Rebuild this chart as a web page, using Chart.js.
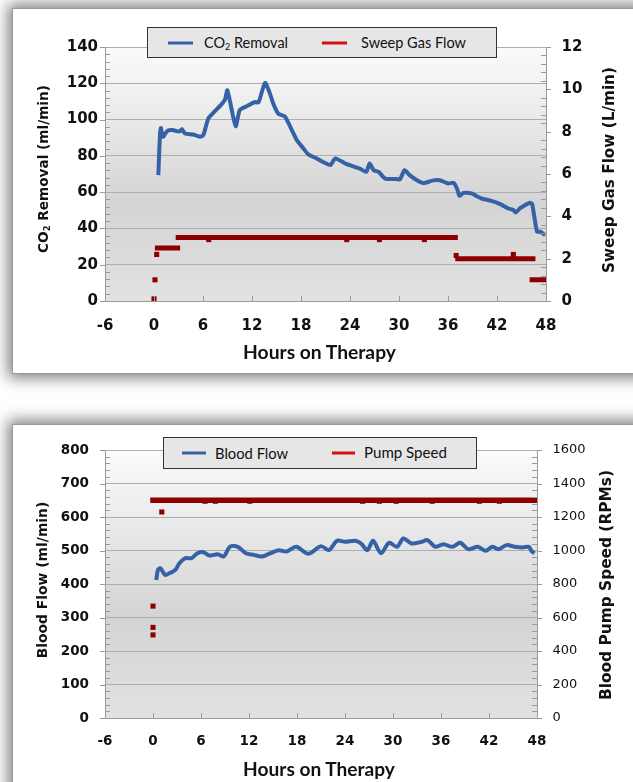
<!DOCTYPE html>
<html><head><meta charset="utf-8">
<script src="https://cdn.jsdelivr.net/npm/chart.js@4.4.1/dist/chart.umd.min.js"></script>
<style>
html,body{margin:0;padding:0;background:#fff;width:633px;height:782px;overflow:hidden;position:relative;}
.panel{position:absolute;background:#fff;border:1px solid #9a9a9a;box-shadow:0 0 14px 4px rgba(0,0,0,0.5);}
#p1{left:12px;top:8px;width:700px;height:364px;}
#p2{left:12px;top:424px;width:700px;height:420px;}
canvas{position:absolute;left:0;}
#c1{top:0;}
#c2{top:390px;}
.legend{position:absolute;background:#e6e6e6;border:1.5px solid #333;box-sizing:border-box;}
.lt{position:absolute;white-space:nowrap;font-family:Lato,'Noto Sans',sans-serif;color:#111;line-height:1;transform:translateY(-50%);}
.sw{position:absolute;height:3px;transform:translateY(-50%);}
.vt{position:absolute;white-space:nowrap;font-weight:bold;font-family:'DejaVu Sans',sans-serif;color:#111;line-height:1.1;transform:translate(-50%,-50%) rotate(-90deg);}
.xt{position:absolute;white-space:nowrap;font-weight:bold;font-family:Lato,'Noto Sans',sans-serif;color:#111;line-height:1.1;transform:translate(-50%,-50%);}
sub{font-size:0.62em;vertical-align:-0.3em;line-height:0;}
</style>
</head>
<body>
<div class="panel" id="p1"></div>
<div class="panel" id="p2"></div>
<canvas id="c1" width="633" height="380"></canvas>
<canvas id="c2" width="633" height="392"></canvas>

<div class="legend" style="left:147px;top:27px;width:350px;height:31px;"></div>
<div class="sw" style="left:168px;top:42.7px;width:25px;background:#3561a6;"></div>
<div class="lt fit" data-w="84" style="left:204px;top:42.7px;">CO<sub>2</sub> Removal</div>
<div class="sw" style="left:322px;top:42.7px;width:25px;background:#d41010;"></div>
<div class="lt fit" data-w="105" style="left:361px;top:42.7px;">Sweep Gas Flow</div>

<div class="legend" style="left:163px;top:437px;width:314px;height:32px;"></div>
<div class="sw" style="left:182px;top:453.3px;width:24px;background:#3561a6;"></div>
<div class="lt fit" data-w="73" style="left:215px;top:453.3px;">Blood Flow</div>
<div class="sw" style="left:332px;top:453.3px;width:23px;background:#d41010;"></div>
<div class="lt fit" data-w="83" style="left:364px;top:453.3px;">Pump Speed</div>

<div class="vt fit" data-w="168" style="left:43px;top:169px;">CO<sub>2</sub> Removal (ml/min)</div>
<div class="vt fit" data-w="206" style="left:609px;top:170px;">Sweep Gas Flow (L/min)</div>
<div class="xt fit" data-w="153" style="left:319.5px;top:352px;">Hours on Therapy</div>

<div class="vt fit" data-w="157" style="left:42.5px;top:580px;">Blood Flow (ml/min)</div>
<div class="vt fit" data-w="230" style="left:606px;top:585px;">Blood Pump Speed (RPMs)</div>
<div class="xt fit" data-w="152" style="left:319px;top:769px;">Hours on Therapy</div>

<script>
// ---------- tick labels ----------
const hoursTicks = [-6, 0, 6, 12, 18, 24, 30, 36, 42, 48];
const co2Ticks = [0, 20, 40, 60, 80, 100, 120, 140];
const sweepTicks = [0, 2, 4, 6, 8, 10, 12];
const bloodTicks = [0, 100, 200, 300, 400, 500, 600, 700, 800];
const pumpTicks = [0, 200, 400, 600, 800, 1000, 1200, 1400, 1600];

// ---------- chart 1: CO2 removal (ml/min) ----------
const co2Hours = [0.53, 0.62, 0.75, 0.86, 1.0, 1.14, 1.4, 1.75, 2.3, 2.8, 3.18, 3.4, 3.8, 4.8, 5.63, 6.04,
  6.65, 7.26, 8.29, 8.7, 8.98, 9.4, 10.0, 10.5, 11.35, 12.37, 12.8, 13.6, 14.2, 14.6, 15.2, 16.0, 16.4,
  17.5, 18.3, 18.9, 19.9, 20.9, 21.6, 22.2, 23.6, 25.2, 26.0, 26.4, 26.9, 27.5, 28.3, 29.7, 30.1, 30.7,
  31.3, 32.2, 33.0, 34.2, 35.0, 36.0, 36.7, 37.1, 37.4, 37.9, 38.9, 39.5, 40.1, 41.3, 42.4, 43.4, 44.0,
  44.3, 44.8, 46.0, 46.3, 46.9, 47.3, 47.9];
const co2Values = [69.4, 80, 93, 95.4, 91, 90.5, 92.5, 94, 94.2, 93.6, 93.6, 94.7, 92.3, 91.8, 90.5, 91.4,
  100.6, 103.7, 108.5, 111, 116.2, 107.9, 96.3, 105.2, 107.4, 109.7, 109.5, 120.2, 114.3, 108.8, 103.3, 101.8, 98.7,
  88.6, 84.1, 80.8, 78.6, 76.2, 74.9, 78.6, 75.4, 73, 71.2, 75.8, 72.1, 71.2, 67.5, 67.2, 67.0, 72.1,
  69.4, 66.6, 65, 66.5, 66.6, 64.8, 65.1, 62, 58, 59.6, 59.3, 57.8, 56.5, 55.2, 53.4, 51, 50.1,
  48.8, 51, 54.1, 53.4, 38.2, 38.2, 36.3];

// sweep gas flow (L/min): constant runs and single readings
const sweepRunStart = [0.42, 2.96, 37.2, 46.3];
const sweepRunEnd = [2.9, 36.9, 46.4, 48.0];
const sweepRunValue = [2.5, 3.0, 2.0, 1.0];
const sweepDotHours = [0.0, 0.12, 0.33, 6.7, 23.6, 27.6, 33.1, 37.0, 44.0];
const sweepDotValues = [0.1, 1.0, 2.2, 2.9, 2.9, 2.9, 2.9, 2.15, 2.2];

// ---------- chart 2: blood flow (ml/min) ----------
const bloodHours = [0.41, 0.62, 0.92, 1.53, 2.03, 2.79, 3.3, 4.05, 4.8, 5.56, 6.3, 7.07, 8.09, 8.84, 9.6,
  10.6, 11.6, 12.6, 13.6, 14.7, 15.7, 16.7, 17.9, 19.4, 21.0, 22.0, 23.0, 24.0, 25.3, 26.0, 26.8, 27.5,
  28.5, 29.5, 30.5, 31.3, 32.3, 33.6, 34.3, 35.3, 36.3, 37.4, 38.4, 39.4, 40.6, 41.6, 42.4, 43.2, 44.2,
  45.2, 46.2, 47.0, 47.3, 47.7];
const bloodValues = [412, 442, 447, 427, 432, 442, 462, 477, 477, 492, 495, 485, 489, 482, 511,
  511, 492, 487, 482, 492, 501, 497, 511, 490, 513, 501, 529, 526, 529, 521, 501, 529,
  492, 523, 511, 536, 521, 526, 531, 511, 519, 511, 523, 504, 511, 499, 511, 504, 516,
  511, 509, 511, 499, 492];

// blood pump speed (RPM)
const pumpRunStart = [0.0];
const pumpRunEnd = [48.0];
const pumpRunValue = [1300];
const pumpDotHours = [0.0, 0.0, 0.0, 1.1, 6.5, 7.8, 12.1, 26.2, 28.3, 30.4, 34.9, 40.8, 43.3];
const pumpDotValues = [668, 541, 496, 1230, 1294, 1294, 1294, 1294, 1294, 1294, 1294, 1294, 1294];

// ---------- styling ----------
const BLUE = '#3561a6';
const DARKRED = '#8e0000';
const GRID = '#adadad';
const AXIS = '#9a9a9a';
const TXT = '#111111';

function pts(xs, ys) { return xs.map((x, i) => ({ x: x, y: ys[i] })); }
function runs(starts, ends, vals) {
  const out = [];
  starts.forEach((s, i) => { out.push({ x: s, y: vals[i] }, { x: ends[i], y: vals[i] }, { x: ends[i], y: null }); });
  return out;
}
function fixedTicks(arr) { return s => { s.ticks = arr.map(v => ({ value: v })); }; }

const plotBg = {
  id: 'plotBg',
  beforeDraw(chart) {
    const { ctx, chartArea: a } = chart;
    const g = ctx.createLinearGradient(0, a.top, 0, a.bottom);
    g.addColorStop(0, '#fbfbfb');
    g.addColorStop(0.62, '#d4d4d4');
    g.addColorStop(1, '#e2e2e2');
    ctx.save(); ctx.fillStyle = g;
    ctx.fillRect(a.left, a.top, a.right - a.left, a.bottom - a.top);
    ctx.restore();
  }
};

const tickMarks = {
  id: 'tickMarks',
  afterDraw(chart, args, o) {
    const ctx = chart.ctx, a = chart.chartArea;
    const yl = chart.scales.y, yr = chart.scales.y1, xs = chart.scales.x;
    ctx.save(); ctx.strokeStyle = AXIS; ctx.lineWidth = 1;
    const ln = (x1, y1, x2, y2) => { ctx.beginPath(); ctx.moveTo(x1, y1); ctx.lineTo(x2, y2); ctx.stroke(); };
    const axisTicks = (sc, major, minor, side) => {
      const n = Math.round((sc.max - sc.min) / minor);
      const per = Math.round(major / minor);
      for (let i = 0; i <= n; i++) {
        const p = Math.round(sc.getPixelForValue(sc.min + i * minor)) + 0.5;
        const isMajor = i % per === 0;
        if (side === 'left') { isMajor ? ln(a.left - 5, p, a.left, p) : ln(a.left, p, a.left + 5, p); }
        else { isMajor ? ln(a.right, p, a.right + 5, p) : ln(a.right - 5, p, a.right, p); }
      }
    };
    axisTicks(yl, o.lMajor, o.lMinor, 'left');
    axisTicks(yr, o.rMajor, o.rMinor, 'right');
    hoursTicks.forEach(h => { const p = Math.round(xs.getPixelForValue(h)) + 0.5; ln(p, a.bottom, p, a.bottom - 5); });
    ctx.restore();
  }
};

function makeChart(id, cfg) {
  const tickFont = (size, weight) => ({ family: "'DejaVu Sans'", size: size, weight: weight });
  return new Chart(document.getElementById(id), {
    type: 'line',
    data: { datasets: cfg.datasets },
    options: {
      responsive: false, animation: false, events: [],
      layout: { padding: { top: cfg.top, left: 0, right: 0, bottom: 0 } },
      plugins: { legend: { display: false }, tooltip: { enabled: false }, tickMarks: cfg.marks },
      scales: {
        x: {
          type: 'linear', min: -6, max: 48,
          afterBuildTicks: fixedTicks(hoursTicks),
          afterFit: s => { s.height = cfg.xh; },
          grid: { display: false },
          border: { display: true, color: AXIS, width: 1 },
          ticks: { font: tickFont(cfg.fs, 'bold'), color: TXT, padding: cfg.xpad, maxRotation: 0, autoSkip: false, callback: v => String(v) }
        },
        y: {
          type: 'linear', position: 'left', min: cfg.lMin, max: cfg.lMax,
          afterBuildTicks: fixedTicks(cfg.lTicks),
          afterFit: s => { s.width = 105; },
          grid: { color: GRID, lineWidth: 1, drawTicks: false },
          border: { display: true, color: AXIS, width: 1 },
          ticks: { font: tickFont(cfg.fs, 'bold'), color: TXT, padding: cfg.lpad, callback: v => String(v) }
        },
        y1: {
          type: 'linear', position: 'right', min: cfg.rMin, max: cfg.rMax,
          afterBuildTicks: fixedTicks(cfg.rTicks),
          afterFit: s => { s.width = cfg.rw; },
          grid: { drawOnChartArea: false, drawTicks: false },
          border: { display: true, color: AXIS, width: 1 },
          ticks: { font: tickFont(cfg.rSize, cfg.rWeight), color: TXT, padding: 15.5, callback: v => String(v) }
        }
      }
    },
    plugins: [plotBg, tickMarks]
  });
}

makeChart('c1', {
  top: 47, xh: 79, xpad: 8, lpad: 7, rw: 87, fs: 15, rSize: 15, rWeight: 'bold',
  lMin: 0, lMax: 140, lTicks: co2Ticks, rMin: 0, rMax: 12, rTicks: sweepTicks,
  marks: { lMajor: 20, lMinor: 4, rMajor: 2, rMinor: 0.4 },
  datasets: [
    { label: 'CO2 Removal', data: pts(co2Hours, co2Values), borderColor: BLUE, borderWidth: 4, pointRadius: 0, tension: 0.2, yAxisID: 'y', borderJoinStyle: 'round' },
    { label: 'Sweep Gas Flow', data: runs(sweepRunStart, sweepRunEnd, sweepRunValue), borderColor: DARKRED, borderWidth: 5, borderCapStyle: 'square', pointRadius: 0, spanGaps: false, yAxisID: 'y1' },
    { label: 'Sweep Gas Flow readings', data: pts(sweepDotHours, sweepDotValues), showLine: false, pointStyle: 'rect', pointRadius: 3.6, backgroundColor: DARKRED, borderWidth: 0, yAxisID: 'y1' }
  ]
});

makeChart('c2', {
  top: 60, xh: 64, xpad: 7, lpad: 16, rw: 96, fs: 13.5, rSize: 13, rWeight: 'normal',
  lMin: 0, lMax: 800, lTicks: bloodTicks, rMin: 0, rMax: 1600, rTicks: pumpTicks,
  marks: { lMajor: 100, lMinor: 20, rMajor: 200, rMinor: 40 },
  datasets: [
    { label: 'Blood Flow', data: pts(bloodHours, bloodValues), borderColor: BLUE, borderWidth: 4, pointRadius: 0, tension: 0.3, yAxisID: 'y', borderJoinStyle: 'round' },
    { label: 'Pump Speed', data: runs(pumpRunStart, pumpRunEnd, pumpRunValue), borderColor: DARKRED, borderWidth: 5.5, borderCapStyle: 'square', pointRadius: 0, spanGaps: false, yAxisID: 'y1' },
    { label: 'Pump Speed readings', data: pts(pumpDotHours, pumpDotValues), showLine: false, pointStyle: 'rect', pointRadius: 3.6, backgroundColor: DARKRED, borderWidth: 0, yAxisID: 'y1' }
  ]
});

// size text so each label spans the measured length
document.querySelectorAll('.fit').forEach(el => {
  el.style.fontSize = '40px';
  const w = el.offsetWidth;
  el.style.fontSize = (40 * parseFloat(el.dataset.w) / w).toFixed(2) + 'px';
});
</script>
</body></html>
